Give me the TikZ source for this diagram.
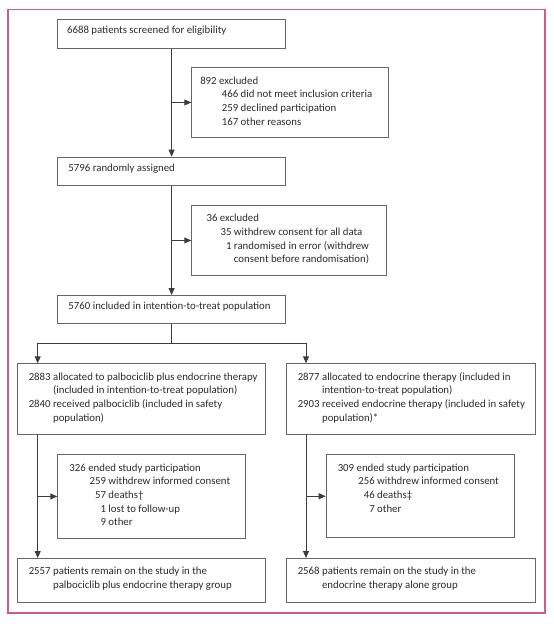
\documentclass[tikz,border=0pt]{standalone}
\usepackage{fontspec}
\setmainfont{Carlito}
\usepackage{array}
\usetikzlibrary{arrows.meta}
\definecolor{framepink}{HTML}{D25A86}
\definecolor{boxgray}{HTML}{666666}
\definecolor{linegray}{HTML}{3C3C3C}
\definecolor{txtgray}{HTML}{2B2B2B}
\newcolumntype{R}[1]{>{\raggedleft\arraybackslash}p{#1}}
% text block of fixed size, set from the top
\newcommand{\boxtext}[3]{\parbox[t][#2][t]{#1}{#3}}

\begin{document}
\begin{tikzpicture}[x=1pt,y=-1pt,line width=0.9pt,
  box/.style={draw=boxgray,anchor=north west,inner xsep=#1,inner ysep=7pt,
    font=\fontsize{10.8}{13.6}\selectfont,text=txtgray},
  box/.default=10pt,
  >={Triangle[length=7pt,width=6pt]}]
  \useasboundingbox (0,0) rectangle (554,624);
  \draw[framepink,line width=1.3pt] (8,9.5) rectangle (545,613);

  \node[box=9.4pt] (screened) at (57.3,19)
    {\boxtext{208.9pt}{14.7pt}{6688 patients screened for eligibility}};
  \node[box=8.5pt] (excluded) at (191.3,67.3)
    {\boxtext{179.3pt}{55.4pt}{\begin{tabular}[t]{@{}R{38pt}@{\ }l@{}}
      \multicolumn{2}{@{}l@{}}{892 excluded}\\
      466 & did not meet inclusion criteria\\
      259 & declined participation\\
      167 & other reasons
    \end{tabular}}};
  \node[box=10.7pt] (randomised) at (57.3,156.7)
    {\boxtext{206.3pt}{14.3pt}{5796 randomly assigned}};
  \node[box=14.8pt] (withdrawn) at (191.3,205)
    {\boxtext{165.1pt}{56pt}{\begin{tabular}[t]{@{}R{25pt}@{\ }l@{}}
      \multicolumn{2}{@{}l@{}}{36 excluded}\\
      35 & withdrew consent for all data\\
      1 & randomised in error (withdrew\\
        & consent before randomisation)
    \end{tabular}}};
  \node[box=10.7pt] (itt) at (57.3,295)
    {\boxtext{206.3pt}{14.3pt}{5760 included in intention-to-treat population}};

  \node[box=11pt] (palbo) at (17.3,363.3)
    {\boxtext{226pt}{56.7pt}{\begin{tabular}[t]{@{}r@{\ }l@{}}
      2883 & allocated to palbociclib plus endocrine therapy\\
           & (included in intention-to-treat population)\\
      2840 & received palbociclib (included in safety\\
           & population)
    \end{tabular}}};
  \node[box=11.3pt] (endo) at (286,363.3)
    {\boxtext{226.4pt}{56.7pt}{\begin{tabular}[t]{@{}r@{\ }l@{}}
      2877 & allocated to endocrine therapy (included in\\
           & intention-to-treat population)\\
      2903 & received endocrine therapy (included in safety\\
           & population)*
    \end{tabular}}};

  \node[box=11.7pt] (endedL) at (57.3,454.3)
    {\boxtext{164.6pt}{69.4pt}{\begin{tabular}[t]{@{}R{36.6pt}@{\ }l@{}}
      \multicolumn{2}{@{}l@{}}{326 ended study participation}\\
      259 & withdrew informed consent\\
      57 & deaths†\\
      1 & lost to follow-up\\
      9 & other
    \end{tabular}}};
  \node[box=11.6pt] (endedR) at (325.7,454.3)
    {\boxtext{165.1pt}{69pt}{\begin{tabular}[t]{@{}R{37pt}@{\ }l@{}}
      \multicolumn{2}{@{}l@{}}{309 ended study participation}\\
      256 & withdrew informed consent\\
      46 & deaths‡\\
      7 & other
    \end{tabular}}};

  \node[box=11pt] (remainL) at (17.3,558)
    {\boxtext{226pt}{30pt}{\begin{tabular}[t]{@{}r@{\ }l@{}}
      2557 & patients remain on the study in the\\
           & palbociclib plus endocrine therapy group
    \end{tabular}}};
  \node[box=11.3pt] (remainR) at (286,558)
    {\boxtext{226.4pt}{30pt}{\begin{tabular}[t]{@{}r@{\ }l@{}}
      2568 & patients remain on the study in the\\
           & endocrine therapy alone group
    \end{tabular}}};

  \coordinate (splitL) at (37.7,343.3);
  \coordinate (splitR) at (306,343.3);
  \draw[linegray] (itt.south) |- (splitL) (itt.south) |- (splitR);
  \path[->,linegray]
    (screened) edge (randomised)
    (screened.south |- excluded.west) edge (excluded.west)
    (randomised) edge (itt)
    (randomised.south |- withdrawn.west) edge (withdrawn.west)
    (splitL) edge (splitL |- palbo.north)
    (splitR) edge (splitR |- endo.north)
    (splitL |- palbo.south) edge (splitL |- remainL.north)
    (splitL |- endedL.west) edge (endedL.west)
    (splitR |- endo.south) edge (splitR |- remainR.north)
    (splitR |- endedR.west) edge (endedR.west);
\end{tikzpicture}
\end{document}
